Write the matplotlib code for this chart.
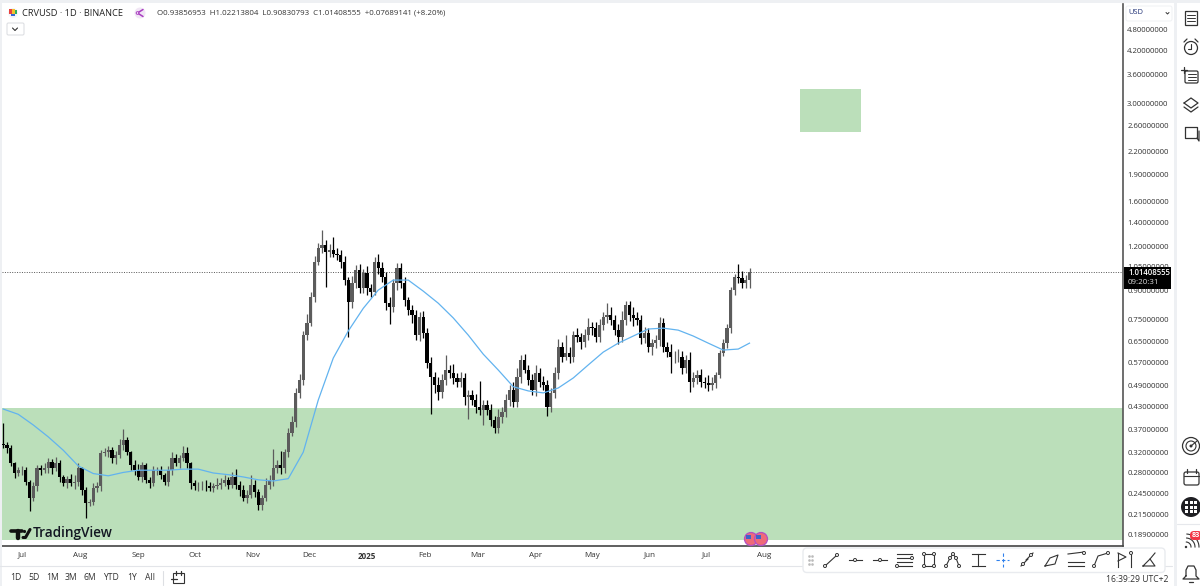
import numpy as np
import matplotlib
matplotlib.use("Agg")
import matplotlib.pyplot as plt
from matplotlib.patches import Rectangle, FancyBboxPatch, Circle

plt.rcParams['font.family'] = ['Open Sans', 'DejaVu Sans']

# ---------- data (2 day steps, prices in USD) ----------
closes = [
    .335, .329, .298, .280, .285, .285, .265, .238, .257, .289, .285, .289, .300, .289, .298, .273, .263, .270, .263, .265,
    .289, .251, .231, .232, .255, .257, .318, .320, .324, .308, .314, .335, .346, .320, .295, .285, .273, .295, .268,
    .263, .285, .285, .277, .265, .285, .308, .298, .308, .318, .298, .263, .257, .257, .258, .257, .255, .258, .260, .263,
    .268, .260, .273, .260, .251, .238, .243, .260, .248, .228, .238, .260, .268, .289, .295, .289, .320, .362, .388,
    .468, .508, .678, .733, .866, 1.086, 1.185, 1.208, 1.155, 1.17, 1.14, 1.134, 1.086, .965, .838, .946, 1.029, .916, 1.009, .916,
    .894, 1.086, 1.045, .984, .832, .810, .946, 1.045, .946, .849, .796, .771, .678, .762, .687,
    .567, .519, .493, .471, .508, .542, .532, .515, .502, .515, .456, .462, .447, .428, .419, .433, .419, .393, .374, .401,
    .414, .447, .477, .441, .519, .578, .542, .508, .477, .532,
    .502, .493, .428, .468, .532, .628, .589, .604, .589, .678, .669, .648, .678, .714, .709, .669, .723, .762, .771, .747,
    .700, .669, .747, .821, .771, .757, .747, .665, .687, .628, .644, .657, .733, .628, .608, .589, .589, .589, .549, .578,
    .502, .515, .525, .502, .499, .493, .499, .525, .604, .644, .709, .905, .983, .977, .946, .965, 1.014]
# wick lengths, % beyond the candle body
wick_up = [
    14, 2, 2, 1, 2, 3, 2, 1, 3, 2, 2, 3, 3, 2, 4, 2, 1, 2, 3, 4,
    3, 1, 2, 2, 3, 3, 2, 3, 3, 2, 3, 4, 7, 2, 1, 3, 4, 2, 1, 2,
    3, 2, 3, 1, 3, 4, 3, 2, 5, 4, 1, 2, 3, 3, 4, 3, 2, 4, 3, 3,
    2, 3, 5, 2, 3, 3, 6, 3, 2, 2, 4, 3, 13, 3, 9, 2, 3, 4, 3, 4,
    3, 6, 3, 4, 3, 10, 3, 4, 9, 4, 3, 4, 2, 5, 3, 4, 3, 5, 3, 3,
    5, 4, 3, 4, 3, 3, 3, 4, 2, 3, 3, 3, 4, 3, 4, 3, 5, 4, 10, 3,
    6, 3, 4, 3, 3, 3, 4, 18, 3, 3, 4, 3, 5, 3, 4, 3, 5, 6, 3, 4,
    3, 4, 5, 3, 4, 3, 3, 4, 5, 3, 12, 4, 3, 5, 3, 4, 6, 3, 4, 4,
    3, 8, 5, 3, 4, 6, 3, 3, 5, 4, 3, 4, 3, 3, 3, 4, 3, 3, 5, 4,
    5, 4, 3, 5, 4, 3, 4, 3, 5, 4, 2, 2, 3, 3, 2, 2, 9, 5, 3, 3]
wick_dn = [
    2, 3, 2, 3, 2, 3, 2, 8, 2, 3, 3, 2, 3, 4, 2, 3, 2, 3, 2, 4,
    3, 3, 9, 2, 2, 3, 3, 2, 3, 3, 4, 2, 3, 2, 3, 3, 2, 3, 2, 3,
    2, 3, 3, 2, 3, 3, 2, 3, 2, 3, 4, 2, 3, 2, 3, 2, 3, 2, 3, 2,
    3, 2, 3, 4, 2, 3, 2, 3, 3, 3, 2, 3, 4, 3, 4, 3, 3, 2, 3, 3,
    3, 3, 2, 3, 2, 3, 20, 3, 2, 3, 4, 3, 20, 4, 3, 3, 3, 4, 3, 2,
    4, 3, 4, 10, 3, 4, 3, 4, 3, 5, 3, 4, 3, 3, 21, 5, 5, 4, 3, 3,
    4, 3, 3, 5, 13, 3, 4, 3, 9, 3, 4, 3, 3, 4, 3, 4, 3, 3, 4, 2,
    3, 3, 4, 3, 3, 6, 3, 3, 4, 3, 2, 4, 3, 3, 4, 3, 3, 4, 3, 3,
    3, 4, 3, 3, 4, 3, 3, 4, 5, 3, 4, 3, 3, 5, 3, 4, 3, 3, 10, 4,
    3, 4, 3, 6, 3, 4, 3, 3, 4, 3, 3, 2, 2, 3, 3, 3, 3, 3, 3, 5]
first_open = 0.338

# blue moving average, one reading every 8 days
ema_prices = [
    .422, .408, .381, .353, .324, .293, .279, .275, .281, .285, .285, .285, .287, .287, .280, .277, .273, .268, .266, .270,
    .320, .447, .585, .696, .805, .905, .965, .965, .899, .832, .757, .678, .600, .542, .487, .474, .468, .483, .515, .560,
    .608, .644, .674, .705, .709, .700, .674, .644, .616, .620, .644]

# days counted from 1 Jul 2024
month_days = [0, 31, 62, 92, 123, 153, 184, 215, 243, 274, 304, 335, 365, 396]
month_labels = ['Jul', 'Aug', 'Sep', 'Oct', 'Nov', 'Dec', '2025', 'Feb', 'Mar', 'Apr', 'May', 'Jun', 'Jul', 'Aug']
price_ticks = [4.8, 4.2, 3.6, 3.0, 2.6, 2.2, 1.9, 1.6, 1.4, 1.2, 1.05, 0.9, 0.75, 0.65, 0.57, 0.49, 0.43,
               0.37, 0.32, 0.28, 0.245, 0.215, 0.189]
ranges = ['1D', '5D', '1M', '3M', '6M', 'YTD', '1Y', 'All']
range_x = [16, 34, 53, 71, 90, 111, 132, 150]

last_price = 1.01408555
zone_low = (0.182, 0.424)
zone_high = (2.494, 3.287)
zone_high_days = (415, 447.5)

# ---------- figure ----------
W, H = 1200, 586
fig = plt.figure(figsize=(W / 100, H / 100), dpi=100, facecolor='white')
ax = fig.add_axes([2 / W, 1 - 546 / H, 1121 / W, 542 / H])
ax.set_yscale('log')
ax.set_xlim(-10.67, 587.2)
ax.set_ylim(0.1753, 5.67)

ax.axhspan(zone_low[0], zone_low[1], color='#bbdfba', lw=0, zorder=1)
ax.add_patch(Rectangle((zone_high_days[0], zone_high[0]), zone_high_days[1] - zone_high_days[0],
                       zone_high[1] - zone_high[0], color='#bbdfba', lw=0, zorder=1))

c = np.array(closes)
o = np.r_[first_open, c[:-1]]
days = np.arange(len(c)) * 2 - 10
top = np.maximum(o, c)
bot = np.minimum(o, c)
hi = top * (1 + np.array(wick_up) / 100)
lo = bot * (1 - np.array(wick_dn) / 100)
colors = ['#5c5c5c' if b >= a else '#000000' for a, b in zip(o, c)]
ax.vlines(days, lo, hi, colors=colors, lw=0.9, zorder=3)
ax.bar(days, top - bot, bottom=bot, width=1.7, color=colors, lw=0, zorder=3)

ema_days = np.r_[np.arange(-10, 382 + 1, 8), 388]
ax.plot(ema_days, ema_prices, color='#62b3ef', lw=0.9, zorder=4)
ax.axhline(last_price, color='#555555', lw=0.7, ls=(0, (1, 1.5)), zorder=2)

ax.set_xticks(month_days)
labels = ax.set_xticklabels(month_labels, fontsize=5.8, color='#333333')
labels[6].set_fontweight('bold')
ax.tick_params(axis='x', length=0, pad=4)
ax.yaxis.tick_right()
ax.set_yticks(price_ticks)
ax.set_yticklabels(['%.8f' % p for p in price_ticks], fontsize=5.6, color='#333333')
ax.minorticks_off()
ax.tick_params(axis='y', length=0, pad=3)
for s in ['top', 'left']:
    ax.spines[s].set_visible(False)
ax.spines['right'].set_color('#555555')
ax.spines['bottom'].set_color('#444444')
ax.spines['right'].set_linewidth(1.2)
ax.spines['bottom'].set_linewidth(1.2)

# ---------- interface bits in pixel coordinates ----------
ui = fig.add_axes([0, 0, 1, 1], facecolor='none')
ui.set_xlim(0, W)
ui.set_ylim(H, 0)
ui.axis('off')


def txt(x, y, s, size=6, color='#333333', ha='left', **kw):
    ui.text(x, y, s, fontsize=size, color=color, ha=ha, va='center', **kw)


def line(xs, ys, color='#333333', lw=0.9):
    ui.plot(xs, ys, color=color, lw=lw, solid_capstyle='round')


def dot(x, y, r=1.8, color='#333333'):
    ui.add_patch(Circle((x, y), r, fc='white', ec=color, lw=0.7, zorder=6))


# page edges
ui.add_patch(Rectangle((0, 0), W, 3, color='#eef0f3', lw=0))
ui.add_patch(Rectangle((0, 0), 2, H, color='#eef0f3', lw=0))
ui.add_patch(Rectangle((1174, 0), 3, H, color='#eef0f3', lw=0))
line([0, 1172], [566, 566], '#e3e5e9', 0.8)

# header
ui.add_patch(Circle((13, 13), 5, fc='#f4f4f8', ec='none'))
ui.add_patch(Rectangle((9, 9), 3, 5, color='#e8433f', lw=0))
ui.add_patch(Rectangle((12, 9), 3, 5, color='#f2c230', lw=0))
ui.add_patch(Rectangle((15, 10), 2, 4, color='#2fae5d', lw=0))
ui.add_patch(Rectangle((11, 14), 4, 2, color='#3466d6', lw=0))
txt(22, 13, 'CRVUSD · 1D · BINANCE', 6.7, '#222222')
ui.add_patch(Circle((140, 13), 5.5, fc='#f1e6f5', ec='none'))
line([143, 137.5, 143], [9.5, 13, 16.5], '#a83cc0', 1.1)
dot(137.5, 13, 1.3, '#a83cc0')
txt(157, 13, 'O0.93856953  H1.02213804  L0.90830793  C1.01408555  +0.07689141 (+8.20%)', 5.65, '#333333')
ui.add_patch(FancyBboxPatch((7, 23), 17, 12, boxstyle='round,pad=0,rounding_size=1.5', fc='white', ec='#dddfe3', lw=0.8))
line([12.5, 15, 17.5], [28, 30.5, 28], '#333333', 0.8)

# price scale extras
ui.add_patch(FancyBboxPatch((1126, 6), 46, 15, boxstyle='round,pad=0,rounding_size=2', fc='white', ec='#f0f1f4', lw=0.7))
txt(1128, 13, 'USD', 5.4, '#223377')
line([1166, 1167.5, 1169], [12.5, 14, 12.5], '#333333', 0.7)
ui.add_patch(Rectangle((1124, 267), 47, 22, color='#000000', lw=0, zorder=7))
txt(1128, 272.5, '%.8f' % last_price, 5.6, 'white', zorder=8, fontweight='semibold')
txt(1128, 282, '09:20:31', 5.7, '#dddddd', zorder=8)

# bottom row
for x, s in zip(range_x, ranges):
    txt(x, 578, s, 6.2, '#333333', ha='center')
line([162.5, 162.5], [571, 585], '#dddfe3', 0.8)
ui.add_patch(Rectangle((173, 573), 11, 10, fc='none', ec='#333333', lw=0.8))
line([176, 176], [571, 575])
line([181, 181], [571, 575])
line([171, 177], [579, 579])
txt(1168, 579, '16:39:29 UTC+2', 6.2, '#333333', ha='right', zorder=8)

# logo
line([11, 22], [530.5, 530.5], '#111111', 2.6)
line([17.5, 17.5], [530.5, 537.5], '#111111', 3.2)
ui.add_patch(Circle((24.5, 531.5), 1.6, fc='#111111', ec='none'))
line([30, 25.5, 23], [529.5, 537.5, 537.5], '#111111', 2.2)
txt(33, 533.5, 'TradingView', 9.8, '#131722', fontweight='semibold', zorder=6)

# session flags
for x in (751, 761):
    ui.add_patch(Circle((x, 539), 6.5, fc='#ee6a78', ec='#b34fc4', lw=0.9, zorder=6))
    ui.add_patch(Rectangle((x - 5, 535), 5, 3.5, color='#3e63c8', lw=0, zorder=7))
    line([x - 5, x + 5], [541, 541], 'white', 0.9)
    line([x - 4, x + 4], [543.5, 543.5], 'white', 0.9)

# drawing toolbar
ui.add_patch(FancyBboxPatch((803, 548), 362, 24.5, boxstyle='round,pad=0,rounding_size=4', fc='white',
                            ec='#e9ebef', lw=1, zorder=5))
for yy in (556, 560, 564):
    ui.plot([809, 812], [yy, yy], ls='none', marker='s', ms=0.8, color='#bbbbbb', zorder=6)


def tool(xs, ys, pts=(), color='#333333'):
    ui.plot(xs, ys, color=color, lw=0.8, zorder=6)
    for px, py in pts:
        dot(px, py, 1.5, color)


tool([825, 837], [566, 555], [(825, 566), (837, 555)])
tool([849, 862], [560, 560], [(855, 560)])
tool([873, 887], [560, 560], [(880, 560)])
for yy in (554, 558, 562, 566):
    tool([897, 912], [yy, yy])
dot(912, 558, 1.5)
dot(897, 566, 1.5)
tool([924, 934, 934, 924, 924], [554, 554, 566, 566, 554], [(924, 554), (934, 554), (924, 566), (934, 566)])
tool([946, 950, 953, 956, 959], [566, 558, 554, 558, 566], [(946, 566), (950, 558), (953, 554), (956, 558), (959, 566)])
tool([972, 985], [554, 554])
tool([972, 985], [566, 566])
tool([978, 978], [554, 566])
for a, b, d, e in ((996, 1009, 560, 560), (1002.5, 1002.5, 553, 567)):
    ui.plot([a, b], [d, e], color='#2f80ed', lw=0.8, zorder=6, ls=(0, (3, 2)))
tool([1021, 1028], [566, 559], [(1023, 564)])
tool([1026, 1033], [560, 553], [(1031, 555)])
tool([1045, 1050, 1058, 1055, 1045], [566, 558, 555, 564, 566])
tool([1068, 1084], [554, 552], [(1084, 553)])
tool([1068, 1084], [562, 562])
tool([1068, 1084], [566, 566])
tool([1094, 1098, 1108], [566, 556, 553], [(1094, 566), (1108, 553)])
tool([1118, 1118], [553, 567])
tool([1118, 1126, 1118], [553, 557, 561])
tool([1131, 1131], [555, 567], [(1131, 553)])
tool([1143, 1150, 1155, 1148, 1143], [566, 559, 566, 566, 566])
tool([1150, 1155], [559, 553])

# right sidebar
ic = '#333333'
ui.add_patch(Rectangle((1185, 11), 12, 14, fc='none', ec=ic, lw=0.9))
for yy in (15, 18, 21):
    line([1187, 1195], [yy, yy], ic, 0.7)
ui.add_patch(Circle((1191, 48), 6.5, fc='none', ec=ic, lw=0.9))
line([1191, 1191, 1188], [44, 49, 49], ic, 0.8)
line([1184, 1187], [42, 39], ic, 0.9)
line([1198, 1195], [42, 39], ic, 0.9)
ui.add_patch(FancyBboxPatch((1185, 71), 13, 12, boxstyle='round,pad=0,rounding_size=1.5', fc='none', ec=ic, lw=0.9))
for yy in (74, 77, 80):
    line([1188, 1196], [yy, yy], ic, 0.7)
line([1181, 1187], [70, 70], ic, 0.9)
line([1184, 1184], [67, 73], ic, 0.9)
line([1184, 1191, 1198, 1191, 1184], [103, 98, 103, 108, 103], ic, 0.9)
line([1184, 1191, 1198], [107, 112, 107], ic, 0.9)
line([1185, 1185, 1197, 1197, 1185], [127, 138, 138, 127, 127], ic, 0.9)
line([1197, 1199, 1199], [138, 141, 131], ic, 0.9)
ui.add_patch(Circle((1191, 446), 8.5, fc='none', ec=ic, lw=0.9))
ui.add_patch(Circle((1191, 446), 5, fc='none', ec=ic, lw=0.8))
ui.add_patch(Circle((1191, 446), 1.5, fc=ic, ec='none'))
line([1191, 1197], [446, 441], ic, 0.8)
ui.add_patch(FancyBboxPatch((1184, 472), 15, 13, boxstyle='round,pad=0,rounding_size=2', fc='none', ec=ic, lw=0.9))
line([1184, 1199], [476, 476], ic, 0.8)
line([1187, 1187], [469, 473], ic, 0.9)
line([1196, 1196], [469, 473], ic, 0.9)
ui.add_patch(Circle((1191, 507), 10, fc='#1f1f23', ec='none'))
for gx in (1186.5, 1191, 1195.5):
    for gy in (502.5, 507, 511.5):
        ui.add_patch(Rectangle((gx - 1.5, gy - 1.5), 3, 3, color='white', lw=0))
line([1177, 1200], [524, 524], '#e6e8ec', 0.8)
for r in (5, 9, 13):
    ui.plot(1186 + r * np.cos(np.linspace(-1.5, 0, 12)), 548 + r * np.sin(np.linspace(-1.5, 0, 12)) - 1, color=ic, lw=0.8)
ui.add_patch(Circle((1186, 547), 1.2, fc=ic, ec='none'))
ui.add_patch(FancyBboxPatch((1190, 531), 12, 9, boxstyle='round,pad=0,rounding_size=4', fc='#f23645', ec='none', zorder=6))
txt(1192, 535.5, '83', 5.2, 'white', zorder=7, fontweight='bold')
line([1186, 1186, 1188, 1194, 1196, 1196, 1199, 1183, 1186], [576, 570, 566, 566, 570, 576, 579, 579, 576], ic, 0.9)
line([1189, 1193], [582, 582], ic, 0.9)

fig.savefig('out.png', dpi=100)
